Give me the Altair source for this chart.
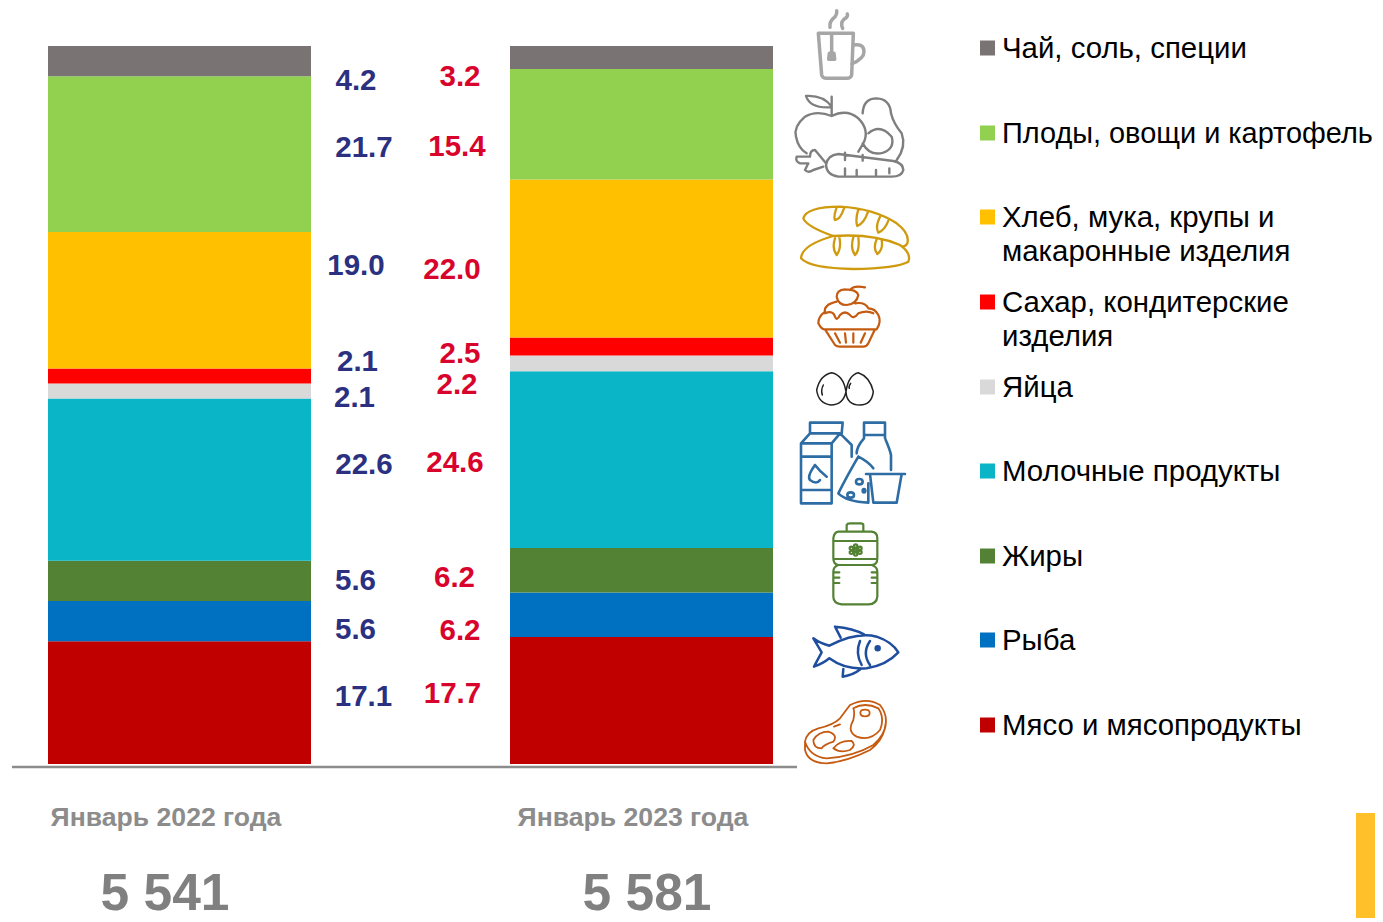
import altair as alt
import pandas as pd

periods = ["Январь 2022 года", "Январь 2023 года"]
totals = ["5 541", "5 581"]
# bottom-to-top stacking order
categories = ["Мясо и мясопродукты", "Рыба", "Жиры", "Молочные продукты", "Яйца",
              "Сахар, кондитерские изделия", "Хлеб, мука, крупы и макаронные изделия",
              "Плоды, овощи и картофель", "Чай, соль, специи"]
values_2022 = [17.1, 5.6, 5.6, 22.6, 2.1, 2.1, 19.0, 21.7, 4.2]
values_2023 = [17.7, 6.2, 6.2, 24.6, 2.2, 2.5, 22.0, 15.4, 3.2]
colors = ["#C00000", "#0070C0", "#548235", "#09B5C6", "#D9D9D9", "#FF0000", "#FFC000", "#92D050", "#7A7374"]

# layout (page pixels)
OX, OY = 8, 8
FONT = "Liberation Sans"
label_pos_2022 = [(363.5, 697), (355.5, 630), (355.5, 581), (364, 465), (354.5, 398), (357.5, 362), (356, 266), (364, 148), (356, 81)]
label_pos_2023 = [(452.5, 694), (460, 631), (454.5, 578), (455, 463), (457, 385), (460, 354), (452, 270), (457, 147), (460, 77)]
legend_lines = [(49, "Чай, соль, специи", 29.4), (134, "Плоды, овощи и картофель", 28.9),
                (218, "Хлеб, мука, крупы и", 29.4), (252, "макаронные изделия", 29.4),
                (303, "Сахар, кондитерские", 29.4), (337, "изделия", 29.4), (388, "Яйца", 29.4),
                (472, "Молочные продукты", 29.4), (557, "Жиры", 29.4), (641, "Рыба", 29.4), (726, "Мясо и мясопродукты", 29.4)]
legend_marks = [(48, 8), (133, 7), (217, 6), (302, 5), (387, 4), (471, 3), (556, 2), (640, 1), (725, 0)]


def ell(cx, cy, rx, ry):
    return (f"M{cx-rx},{cy} Q{cx-rx},{cy-ry} {cx},{cy-ry} Q{cx+rx},{cy-ry} {cx+rx},{cy} "
            f"Q{cx+rx},{cy+ry} {cx},{cy+ry} Q{cx-rx},{cy+ry} {cx-rx},{cy} ")


# icons: outline glyphs, drawn in a 3x grid relative to their panel origin
icons = [
    (790, 0, "#A6A6A6", 3.5,
     "M85,100 L190,100 L185,225 Q183,235 170,235 L110,235 Q97,235 95,225 Z "
     "M190,135 Q222,130 222,155 Q222,175 185,192 M125,105 L125,155 "
     "M118,160 L132,160 L134,178 L116,178 Z M121,166 L130,166 M121,172 L130,172 "
     "M120,82 Q118,65 130,55 Q142,45 140,32 M158,85 Q150,70 162,58 Q175,50 172,42"),
    (790, 0, "#7F7F7F", 2.4,
     "M125,348 Q170,325 205,355 Q240,390 220,430 L205,455 M125,348 Q80,330 45,350 Q10,380 18,410 Q25,445 50,460 "
     "M125,320 Q100,285 48,288 Q60,325 120,322 M125,290 L125,348 "
     "M218,340 Q220,295 260,295 Q300,297 303,340 Q310,370 335,400 Q350,440 320,480 "
     "M235,400 Q270,370 305,410 Q315,445 280,458 Q240,470 218,430 "
     "M145,462 L310,483 Q340,490 340,510 Q335,530 305,530 L145,530 Q110,525 108,495 Q112,465 145,462 "
     "M165,505 L165,525 M200,510 L200,525 M258,510 L258,525 M298,505 L298,520 M165,458 L165,480 M218,465 L218,482 "
     "M108,490 L75,450 Q60,450 60,470 L20,470 Q15,485 30,490 L55,490 L45,510 Q55,520 70,510 L100,500"),
    (790, 0, "#D09A0F", 2.3,
     "M40,655 Q50,620 150,620 Q250,625 320,670 Q360,700 352,730 Q345,742 335,738 M40,655 Q50,680 130,708 "
     "M130,708 Q250,700 330,735 Q365,760 355,785 Q320,805 190,807 Q60,805 33,775 Q35,735 130,708 "
     "M140,622 Q130,650 135,660 Q150,660 162,625 M205,628 Q195,660 202,678 Q222,670 233,638 "
     "M270,650 Q255,680 265,698 Q285,690 295,662 M135,715 Q125,745 140,765 Q155,745 148,712 "
     "M190,712 Q180,745 195,765 Q210,750 205,712 M260,718 Q248,745 262,762 Q280,750 275,720"),
    (790, 280, "#C55A11", 2.2,
     "M165,28 Q140,30 140,50 Q145,75 170,75 Q200,72 205,45 Q200,28 165,28 M180,30 Q190,15 225,22 "
     "M140,65 Q100,75 105,95 Q85,110 85,130 Q95,150 105,148 L260,148 Q275,125 265,105 Q255,85 235,85 Q225,65 195,70 "
     "M105,100 Q130,90 135,110 Q140,125 150,105 Q165,90 180,105 Q190,120 205,100 Q230,90 250,100 "
     "M105,148 L135,195 Q140,200 150,200 L220,200 Q230,200 235,190 L255,148 "
     "M135,160 L150,188 M165,160 L168,188 M190,160 L190,188 M225,160 L212,188"),
    (790, 280, "#222222", 1.5,
     "M125,278 Q160,285 168,335 Q160,375 122,375 Q85,370 80,330 Q90,285 125,278 Z "
     "M205,278 Q240,290 250,335 Q245,375 210,375 Q170,375 168,335 Q175,285 205,278 "
     "M100,315 Q92,330 97,345 M182,310 Q175,320 178,325"),
    (790, 280, "#2E6CA4", 2.6,
     "M33,670 L33,490 L60,460 L150,460 L185,495 L185,530 M33,490 L125,490 L125,670 M125,490 L150,460 "
     "M60,460 L60,428 L158,428 L155,460 M33,530 L125,530 M33,630 L125,630 M33,670 L125,670 "
     "M75,555 Q50,590 60,600 Q80,615 90,600 M75,555 Q90,575 110,590 "
     "M222,475 L222,428 L285,428 L285,475 M222,475 Q200,500 200,520 M285,475 Q300,510 303,525 L303,570 M222,465 L285,465 "
     "M205,530 Q170,590 145,640 Q170,665 235,668 L235,610 M205,530 Q235,545 250,565 "
     + ell(208, 605, 10, 8) + ell(182, 645, 10, 8) + ell(222, 632, 4, 5) +
     "M228,582 L345,582 M240,582 L250,668 L320,668 L335,582"),
    (790, 515, "#548235", 2.2,
     "M170,48 L170,30 Q172,25 180,25 L212,25 Q220,25 220,30 L220,48 "
     "M145,50 L245,50 Q262,52 262,70 L262,130 Q262,150 245,150 Q262,155 262,170 L262,245 Q260,268 235,268 L155,268 "
     "Q130,265 130,245 L130,170 Q130,155 145,150 Q130,148 130,130 L130,70 Q132,52 145,50 Z "
     "M130,78 L262,78 M130,132 L262,132 M145,150 L245,150 "
     + ell(197, 105, 4, 4) + ell(197, 93, 5, 5) + ell(197, 117, 5, 5) + ell(184, 100, 5, 5) + ell(210, 100, 5, 5) + ell(184, 112, 5, 5) + ell(210, 112, 5, 5) +
     "M132,172 L148,172 M132,188 L148,188 M132,204 L148,204 M245,172 L260,172 M245,188 L260,188 M245,204 L260,204"),
    (790, 515, "#1F4E9E", 2.5,
     "M118,392 Q200,350 260,365 Q305,380 325,412 Q290,450 230,460 Q165,465 118,430 "
     "M118,392 Q90,385 70,370 Q85,395 95,412 Q85,430 72,455 Q100,445 118,430 "
     "M135,335 Q190,340 222,358 M135,335 L152,368 M160,462 L158,485 Q190,480 212,462 "
     "M210,378 Q195,415 215,450 M240,378 Q215,415 240,450 " + ell(263, 400, 6, 6) + ell(263, 400, 3, 3)),
    (790, 515, "#C55A11", 1.8,
     "M45,680 Q50,650 85,640 Q130,630 150,610 Q165,590 180,570 Q230,545 270,570 Q295,600 285,640 Q275,680 240,705 Q170,740 110,745 Q55,745 45,705 Z "
     "M45,680 Q60,725 110,730 Q190,725 250,690 Q285,660 287,625 "
     "M190,580 Q225,560 265,580 Q285,610 270,645 Q240,680 200,665 Q170,650 190,615 Q195,590 190,580 "
     + ell(225, 594, 14, 10) +
     "M70,675 Q85,650 115,650 Q145,660 130,680 Q100,690 95,700 Q70,700 70,675 "
     "M130,700 Q150,675 185,678 Q200,690 180,705 Q150,715 130,700 M132,635 L150,628"),
]

rows = []
for i, c in enumerate(categories):
    rows.append({"period": periods[0], "category": c, "idx": i, "value": values_2022[i]})
    rows.append({"period": periods[1], "category": c, "idx": i, "value": values_2023[i]})
df = pd.DataFrame(rows)

bars = alt.Chart(df).mark_bar(size=263).encode(
    x=alt.X("period:N", axis=None, scale=alt.Scale(type="point", padding=0, domain=periods, range=[171.5, 633.5])),
    y=alt.Y("value:Q", stack="zero", axis=None, scale=alt.Scale(domain=[0, 100], range=[764 - OY, 46 - OY])),
    color=alt.Color("category:N", legend=None, scale=alt.Scale(domain=categories, range=colors)),
    order=alt.Order("idx:Q"),
)


def txt(text, x, y, size, color, bold=False, align="center"):
    return alt.Chart(alt.Data(values=[{"t": text}])).mark_text(
        font=FONT, fontSize=size, color=color, fontWeight="bold" if bold else "normal",
        align=align, baseline="middle",
    ).encode(text="t:N", x=alt.value(x - OX), y=alt.value(y - OY))


layers = [bars]
layers.append(alt.Chart(alt.Data(values=[{"a": 1}])).mark_rule(color="#8C8C8C", strokeWidth=2.5).encode(
    x=alt.value(12 - OX), x2=alt.value(797 - OX), y=alt.value(767 - OY)))
for v, (x, y) in zip(values_2022, label_pos_2022):
    layers.append(txt(f"{v:.1f}", x, y, 29.5, "#2B3080", True))
for v, (x, y) in zip(values_2023, label_pos_2023):
    layers.append(txt(f"{v:.1f}", x, y, 29.5, "#D9042B", True))
layers.append(txt(periods[0], 166, 818, 26.6, "#8C8C8C", True))
layers.append(txt(periods[1], 633, 818, 26.6, "#8C8C8C", True))
layers.append(txt(totals[0], 165, 895, 51.5, "#808080", True))
layers.append(txt(totals[1], 647, 895, 51.5, "#808080", True))
for y, t, fs in legend_lines:
    layers.append(txt(t, 1002, y, fs, "#000000", False, "left"))
for y, i in legend_marks:
    layers.append(alt.Chart(alt.Data(values=[{"a": 1}])).mark_square(size=225, color=colors[i], opacity=1).encode(
        x=alt.value(987.5 - OX), y=alt.value(y - OY)))
for ox, oy, col, sw, path in icons:
    layers.append(alt.Chart(alt.Data(values=[{"a": 1}])).mark_point(
        shape=path, size=4 / 9, filled=False, stroke=col, strokeWidth=sw, opacity=1,
        strokeCap="round", strokeJoin="round",
    ).encode(x=alt.value(ox - OX), y=alt.value(oy - OY)))
layers.append(alt.Chart(alt.Data(values=[{"a": 1}])).mark_rect(color="#FFC02A").encode(
    x=alt.value(1356 - OX), x2=alt.value(1383 - OX), y=alt.value(813 - OY), y2=alt.value(918 - OY)))

chart = alt.layer(*layers).properties(
    width=1367, height=914, padding=0, autosize=alt.AutoSizeParams(type="none"), background="white",
).configure_view(stroke=None)

chart.save("out.html", embed_options={"renderer": "svg", "actions": False})
